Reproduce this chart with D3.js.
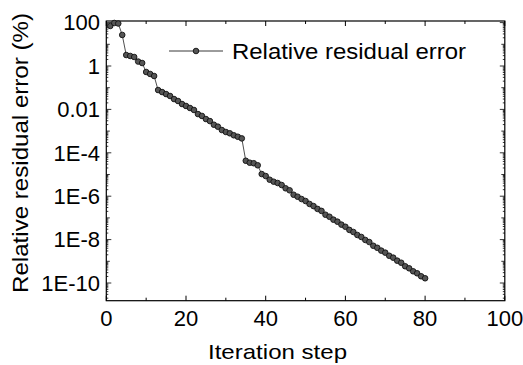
<!DOCTYPE html>
<html><head><meta charset="utf-8">
<script src="https://cdn.jsdelivr.net/npm/d3@7"></script>
<style>body{margin:0;background:#fff}svg{display:block}text{font-family:Arial,'Liberation Sans',sans-serif;fill:#000}</style>
</head><body><svg id="c" width="523" height="365"></svg>
<script>
const steps = d3.range(1, 81);
const residual = [70,96,91,27,3.2,2.9,2.6,1.6,1.37,0.53,0.43,0.346,0.078,0.063,0.051,0.0415,0.030,0.0244,0.0177,0.0144,
0.0116,0.0094,0.0061,0.0050,0.0036,0.0029,0.00197,0.0016,0.00112,0.00091,0.00079,0.00064,0.00055,0.00046,4.3e-5,3.5e-5,3.3e-5,2.65e-5,1.05e-5,8.5e-6,
5.75e-6,4.66e-6,4.06e-6,3.28e-6,2.31e-6,1.87e-6,1.17e-6,9.5e-7,7.4e-7,6.0e-7,4.4e-7,3.5e-7,2.6e-7,2.1e-7,1.4e-7,1.13e-7,8.3e-8,6.7e-8,4.9e-8,3.9e-8,
2.8e-8,2.24e-8,1.63e-8,1.32e-8,9.6e-9,7.7e-9,5.2e-9,4.2e-9,3.1e-9,2.5e-9,1.8e-9,1.47e-9,1.07e-9,8.6e-10,5.9e-10,4.75e-10,3.46e-10,2.8e-10,2.04e-10,1.65e-10];
const xTicks = [0,20,40,60,80,100];
const xMinor = [10,30,50,70,90];
const yTickValues = [1e2,1,1e-2,1e-4,1e-6,1e-8,1e-10];
const yTickLabels = ["100","1","0.01","1E-4","1E-6","1E-8","1E-10"];
const seriesName = "Relative residual error";

const svg = d3.select("#c");
const L=106.3, R=504.8, T=21, B=300.7;
const x = d3.scaleLinear().domain([0,100]).range([L,R]);
const y = d3.scaleLog().domain([1e-10,100]).range([283,22.6]);

const yMinor=[];
for(let e=-11;e<=2;e++){for(let m=1;m<10;m++){const v=m*Math.pow(10,e);const p=y(v);if(p>=T-0.1&&p<=B+0.1)yMinor.push({v,m,e});}}

const g=svg.append("g");
yMinor.forEach(d=>{
  const p=y(d.v);
  let len = d.m===1 ? ((d.e%2===0)?5:3.5) : 2;
  g.append("line").attr("x1",L).attr("x2",L+len).attr("y1",p).attr("y2",p).attr("stroke","#000").attr("stroke-width",0.8);
  g.append("line").attr("x1",R).attr("x2",R-len).attr("y1",p).attr("y2",p).attr("stroke","#000").attr("stroke-width",0.8);
});
xTicks.forEach(t=>{
  g.append("line").attr("x1",x(t)).attr("x2",x(t)).attr("y1",B).attr("y2",B-5).attr("stroke","#000").attr("stroke-width",1);
  g.append("line").attr("x1",x(t)).attr("x2",x(t)).attr("y1",T).attr("y2",T+5).attr("stroke","#000").attr("stroke-width",1);
});
xMinor.forEach(t=>{
  g.append("line").attr("x1",x(t)).attr("x2",x(t)).attr("y1",B).attr("y2",B-3).attr("stroke","#000").attr("stroke-width",1);
  g.append("line").attr("x1",x(t)).attr("x2",x(t)).attr("y1",T).attr("y2",T+3).attr("stroke","#000").attr("stroke-width",1);
});
g.append("rect").attr("x",L).attr("y",T).attr("width",R-L).attr("height",B-T).attr("fill","none").attr("stroke","#000").attr("stroke-width",1.2);

xTicks.forEach(t=>{
  svg.append("text").attr("x",x(t)).attr("y",326).attr("text-anchor","middle").attr("font-size",22).text(t);
});
yTickValues.forEach((v,i)=>{
  svg.append("text").attr("x",100).attr("y",y(v)+7.8).attr("text-anchor","end").attr("font-size",22).text(yTickLabels[i]);
});
svg.append("text").attr("x",208).attr("y",359).attr("font-size",21).attr("textLength",139).attr("lengthAdjust","spacingAndGlyphs").text("Iteration step");
svg.append("text").attr("transform","translate(28,293) rotate(-90)").attr("font-size",22).attr("textLength",280).attr("lengthAdjust","spacingAndGlyphs").text("Relative residual error (%)");

const data = steps.map((s,i)=>({s,v:residual[i]}));
const line = d3.line().x(d=>x(d.s)).y(d=>y(d.v));
svg.append("path").datum(data).attr("d",line).attr("fill","none").attr("stroke","#222").attr("stroke-width",0.8);
svg.selectAll("circle.pt").data(data).enter().append("circle").attr("class","pt")
  .attr("cx",d=>x(d.s)).attr("cy",d=>y(d.v)).attr("r",2.8).attr("fill","#555").attr("stroke","#111").attr("stroke-width",0.9);

svg.append("line").attr("x1",169).attr("x2",223).attr("y1",51).attr("y2",51).attr("stroke","#222").attr("stroke-width",0.9);
svg.append("circle").attr("cx",196).attr("cy",51).attr("r",2.8).attr("fill","#555").attr("stroke","#111").attr("stroke-width",0.9);
svg.append("text").attr("x",232).attr("y",59).attr("font-size",22).attr("textLength",234).attr("lengthAdjust","spacingAndGlyphs").text(seriesName);
</script></body></html>
